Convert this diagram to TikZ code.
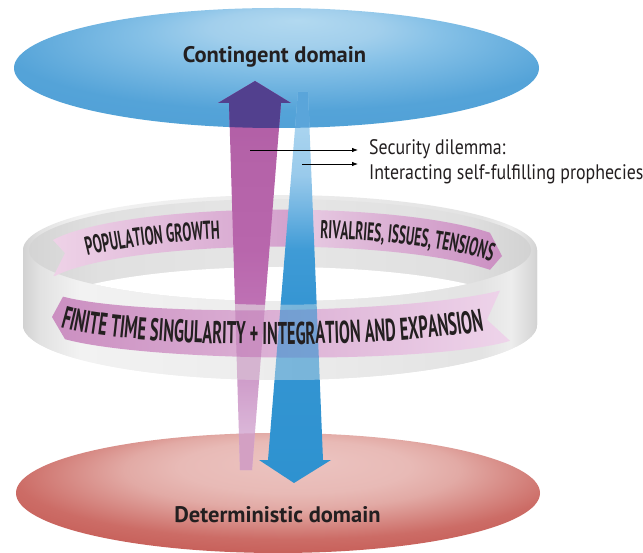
\documentclass[tikz,border=0pt]{standalone}
\usepackage{fontspec}
\setmainfont{PT Sans}
\newfontfamily\rfont[FakeStretch=0.52]{PT Sans Bold}
\newfontfamily\cfont[FakeStretch=0.85]{PT Sans}
\usetikzlibrary{decorations.text,arrows.meta}

\definecolor{tA}{HTML}{B2D9F0}\definecolor{tB}{HTML}{A2CFEC}\definecolor{tC}{HTML}{86C1E7}
\definecolor{tD}{HTML}{54A3D8}\definecolor{tE}{HTML}{4A9CD4}
\definecolor{bA}{HTML}{ECC4C1}\definecolor{bB}{HTML}{E8BAB6}\definecolor{bC}{HTML}{E2AAA5}
\definecolor{bD}{HTML}{CC6C66}\definecolor{bE}{HTML}{C8625C}\definecolor{bF}{HTML}{C65E58}
\definecolor{g0}{HTML}{D2D2D2}\definecolor{g1}{HTML}{E2E2E2}\definecolor{g2}{HTML}{F2F2F2}
\definecolor{g3}{HTML}{ECECEC}\definecolor{g4}{HTML}{E3E3E3}\definecolor{g5}{HTML}{EDEDED}
\definecolor{g6}{HTML}{D8D8D8}
\definecolor{i0}{HTML}{D4D4D4}\definecolor{i1}{HTML}{E0E0E0}\definecolor{i2}{HTML}{E6E6E6}
\definecolor{i3}{HTML}{E0E0E0}\definecolor{i4}{HTML}{D2D2D2}
\definecolor{rbA}{HTML}{EED2E7}\definecolor{rbB}{HTML}{D29ECB}
\definecolor{rcA}{HTML}{E8CCE3}\definecolor{rcB}{HTML}{CB8FC2}
\definecolor{rfA}{HTML}{CB8FC1}\definecolor{rfB}{HTML}{EED4EA}
\definecolor{p0}{HTML}{B05AA5}\definecolor{p1}{HTML}{B462A8}\definecolor{p2}{HTML}{B866AC}
\definecolor{p3}{HTML}{BF72B5}\definecolor{p4}{HTML}{CF9DCA}\definecolor{p5}{HTML}{DCB9DA}
\definecolor{p6}{HTML}{DAB3D7}
\definecolor{q0}{HTML}{9CCBEB}\definecolor{q1}{HTML}{A8D3EF}\definecolor{q2}{HTML}{99CAEB}
\definecolor{q3}{HTML}{72B5E2}\definecolor{q4}{HTML}{3F9BD6}\definecolor{q5}{HTML}{3696D3}
\definecolor{q6}{HTML}{2E92D0}
\definecolor{purdark}{HTML}{52408E}\definecolor{bluein}{HTML}{5AA5DA}
\definecolor{purbot}{HTML}{D3A0C3}\definecolor{purov}{HTML}{B466AA}
\definecolor{blueov}{HTML}{2E92D0}\definecolor{txt}{HTML}{231F20}

\pgfdeclareradialshading{topsh}{\pgfpoint{2bp}{20bp}}{color(0bp)=(tA); color(8bp)=(tB); color(14bp)=(tC); color(27bp)=(tD); color(50bp)=(tE)}
\pgfdeclareradialshading{botsh}{\pgfpoint{2bp}{14bp}}{color(0bp)=(bA); color(11bp)=(bB); color(16bp)=(bC); color(26bp)=(bD); color(30bp)=(bE); color(50bp)=(bF)}
\pgfdeclarehorizontalshading{ringsh}{100bp}{color(0bp)=(g0); color(25bp)=(g0); color(26.7bp)=(g1); color(30.5bp)=(g2); color(50bp)=(g3); color(69.5bp)=(g4); color(72.5bp)=(g5); color(74.5bp)=(g6); color(75bp)=(g0); color(100bp)=(g0)}
\pgfdeclarehorizontalshading{innersh}{100bp}{color(0bp)=(i0); color(25bp)=(i0); color(32bp)=(i1); color(50bp)=(i2); color(68bp)=(i3); color(75bp)=(i4); color(100bp)=(i4)}
\pgfdeclareverticalshading{purpsh}{100bp}{color(0bp)=(p6); color(25bp)=(p6); color(28.9bp)=(p5); color(36.6bp)=(p4); color(45.6bp)=(p3); color(53.4bp)=(p2); color(66.2bp)=(p1); color(75bp)=(p0); color(100bp)=(p0)}
\pgfdeclareverticalshading{bluesh}{100bp}{color(0bp)=(q6); color(25bp)=(q6); color(48.4bp)=(q5); color(54.8bp)=(q4); color(60bp)=(q3); color(64.4bp)=(q2); color(70.1bp)=(q1); color(75bp)=(q0); color(100bp)=(q0)}

\pgfmathdeclarefunction{ribbt}{1}{\pgfmathparse{254.6-45*sqrt(1-((#1-280)/240)^2)}}
\pgfmathdeclarefunction{ribft}{1}{\pgfmathparse{286+28*sqrt(1-((#1-285)/240)^2)-0.018*(#1-63)}}
\pgfmathdeclarefunction{ribfb}{1}{\pgfmathparse{ribft(#1)+42+0.025*(#1-63)}}

\def\purplepath{(240,470) -- (229,103) -- (218,103) -- (255,81) -- (291,103) -- (281,103) -- (252,470) -- cycle}
\def\bluepath{(298,92) -- (308,92) -- (323,460) -- (331,460) -- (294,483) -- (259,460) -- (268,460) -- cycle}
\def\frontwall{plot[domain=180:0,samples=90] ({280+257*cos(\x)},{250+55*sin(\x)}) -- plot[domain=0:180,samples=90] ({280+257*cos(\x)},{325+55*sin(\x)}) -- cycle}

\begin{document}
\begin{tikzpicture}[x=1pt,y=-1pt,
  conn/.style={-{Latex[length=6pt,width=4.5pt]}, line width=0.8pt, shorten >=11pt},
  lbl/.style={inner sep=0pt, text=txt},
  domfont/.style={font=\bfseries\fontsize{22.5}{22.5}\selectfont},
  ribtext/.style={decorate, decoration={text along path, text align=center, text color=txt}},
]
\useasboundingbox (0,0) rectangle (643,553);
\fill[white] (0,0) rectangle (643,553);

% domains
\shade[shading=topsh] (276.5,68) ellipse[x radius=262.5pt, y radius=60pt];
\shade[shading=botsh] (278,493) ellipse[x radius=262pt, y radius=60pt];

% ring silhouette and inner wall
\shade[shading=ringsh] plot[domain=180:360,samples=90] ({280+257*cos(\x)},{250+55*sin(\x)}) -- plot[domain=0:180,samples=90] ({280+257*cos(\x)},{325+55*sin(\x)}) -- cycle;
\shade[shading=innersh] (280,250) ellipse[x radius=251pt, y radius=51pt];
\begin{scope}
  \clip (280,250) ellipse[x radius=251pt, y radius=51pt];
  \fill[white] (280,318) ellipse[x radius=251pt, y radius=51pt];
\end{scope}

% back ribbon
\shade[left color=rbA, right color=rbB] (53,{ribbt(53)}) -- plot[domain=53:290,samples=60] (\x,{ribbt(\x)}) -- (308,{ribbt(308)+18.5}) -- (290,{ribbt(290)+37}) -- plot[domain=290:53,samples=60] (\x,{ribbt(\x)+37}) -- (65,{ribbt(65)+18.5}) -- cycle;
\shade[left color=rcA, right color=rcB] (296,{ribbt(296)}) -- plot[domain=296:490,samples=60] (\x,{ribbt(\x)}) -- (502,{ribbt(502)+18.5}) -- (490,{ribbt(490)+37}) -- plot[domain=490:296,samples=60] (\x,{ribbt(\x)+37}) -- (313,{ribbt(313)+18.5}) -- cycle;
\path[ribtext, decoration={text={|\rfont\fontsize{25.9}{25.9}\selectfont|POPULATION GROWTH}}] plot[domain=58:251,samples=60] (\x,{ribbt(\x)+28});
\path[ribtext, decoration={text={|\rfont\fontsize{25.6}{25.6}\selectfont|RIVALRIES, ISSUES, TENSIONS}}] plot[domain=303:507,samples=60] (\x,{ribbt(\x)+28});

% arrows
\shade[shading=purpsh] \purplepath;
\shade[shading=bluesh] \bluepath;
\begin{scope}
  \clip (276.5,68) ellipse[x radius=262.5pt, y radius=60pt];
  \fill[purdark] \purplepath;
  \fill[bluein] \bluepath;
\end{scope}
\begin{scope}
  \clip (278,493) ellipse[x radius=262pt, y radius=60pt];
  \fill[purbot] \purplepath;
\end{scope}

% front wall and ribbon
\shade[shading=ringsh] \frontwall;
\shade[left color=rfA, right color=rfB] (52,317) -- (63,{ribft(63)}) -- plot[domain=63:500,samples=80] (\x,{ribft(\x)}) -- (487,{(ribft(487)+ribfb(487))/2}) -- (510,{ribfb(510)}) -- plot[domain=510:65,samples=80] (\x,{ribfb(\x)}) -- cycle;
\begin{scope}
  \clip \frontwall;
  \fill[purov, fill opacity=0.42] \purplepath;
  \fill[blueov, fill opacity=0.6] \bluepath;
\end{scope}
\path[ribtext, decoration={text={|\rfont\fontsize{31.5}{31.5}\selectfont|FINITE TIME SINGULARITY + INTEGRATION AND EXPANSION}}] plot[domain=46:500,samples=90] (\x,{ribft(\x)+31.5+0.0125*(\x-63)});

% labels
\node[lbl, domfont, anchor=base] (ctext) at (274.5,63) {Contingent domain};
\node[lbl, domfont, anchor=base] (dtext) at (277.5,522) {Deterministic domain};
\node[lbl, font=\cfont\fontsize{21}{21}\selectfont, anchor=base west] (sd1) at (369,155) {Security dilemma:};
\node[lbl, font=\cfont\fontsize{21}{21}\selectfont, anchor=base west] (sd2) at (369,180) {Interacting self-fulfilling prophecies};
\coordinate (s1) at (250,150);
\coordinate (s2) at (302,164);
\draw[conn] (s1) -- (s1 -| sd1.west);
\draw[conn] (s2) -- (s2 -| sd2.west);
\end{tikzpicture}
\end{document}
